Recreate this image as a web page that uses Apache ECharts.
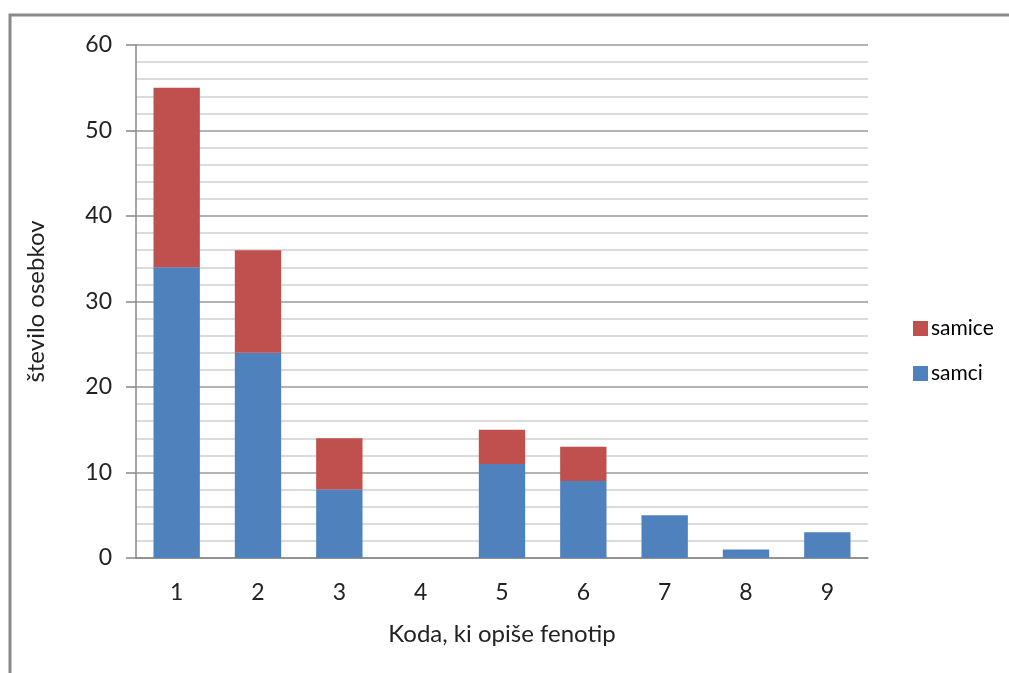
<!DOCTYPE html>
<html>
<head>
<meta charset="utf-8">
<script src="https://cdn.jsdelivr.net/npm/echarts@6/dist/echarts.min.js"></script>
<style>
  html, body { margin: 0; padding: 0; background: #fff; }
  #chart { width: 1009px; height: 673px; }
</style>
</head>
<body>
<div id="chart"></div>
<script>
// Phenotype codes on the x axis
const codes = ['1', '2', '3', '4', '5', '6', '7', '8', '9'];
// Number of individuals per code, by sex
const samci = [34, 24, 8, 0, 11, 9, 5, 1, 3];
const samice = [21, 12, 6, 0, 4, 4, 0, 0, 0];
// Value axis range
const yMin = 0;
const yMax = 60;
const yStep = 10;

const FONT = 'Lato, "Open Sans", sans-serif';
const chart = echarts.init(document.getElementById('chart'));

chart.setOption({
  animation: false,
  textStyle: { fontFamily: FONT },
  graphic: [{
    type: 'rect',
    shape: { x: 10, y: 15, width: 1100, height: 700 },
    style: { fill: 'none', stroke: '#8a8a8a', lineWidth: 3 },
    silent: true
  }],
  legend: {
    orient: 'vertical',
    left: 908,
    top: 313,
    itemWidth: 15,
    itemHeight: 15,
    itemGap: 24,
    icon: 'rect',
    data: ['samice', 'samci'],
    textStyle: { fontFamily: FONT, fontSize: 21, color: '#000', padding: [0, 0, 0, -2] }
  },
  grid: { left: 136, right: 141, top: 45, bottom: 115 },
  xAxis: {
    type: 'category',
    data: codes,
    name: 'Koda, ki opiše fenotip',
    nameLocation: 'middle',
    nameGap: 64,
    nameTextStyle: { fontFamily: FONT, fontSize: 24, color: '#222' },
    axisLine: { lineStyle: { color: '#888', width: 1.5 } },
    axisTick: { show: false },
    axisLabel: { margin: 23, fontFamily: FONT, fontSize: 23, color: '#222' }
  },
  yAxis: {
    type: 'value',
    min: yMin,
    max: yMax,
    interval: yStep,
    name: 'število osebkov',
    nameLocation: 'middle',
    nameGap: 88,
    nameTextStyle: { fontFamily: FONT, fontSize: 24, color: '#222' },
    axisLine: { show: true, lineStyle: { color: '#888', width: 1.5 } },
    axisTick: { show: true, length: 10, lineStyle: { color: '#888', width: 1.5 } },
    axisLabel: { margin: 24, fontFamily: FONT, fontSize: 23, color: '#222' },
    splitLine: { lineStyle: { color: '#9a9a9a', width: 1.5 } },
    minorTick: { show: false, splitNumber: 5 },
    minorSplitLine: { show: true, lineStyle: { color: '#cfcfcf', width: 1.5 } }
  },
  series: [
    {
      name: 'samci',
      type: 'bar',
      stack: 'total',
      data: samci,
      barWidth: '57%',
      itemStyle: { color: '#4F81BD' }
    },
    {
      name: 'samice',
      type: 'bar',
      stack: 'total',
      data: samice,
      barWidth: '57%',
      itemStyle: { color: '#C0504D' }
    }
  ]
});
</script>
</body>
</html>
